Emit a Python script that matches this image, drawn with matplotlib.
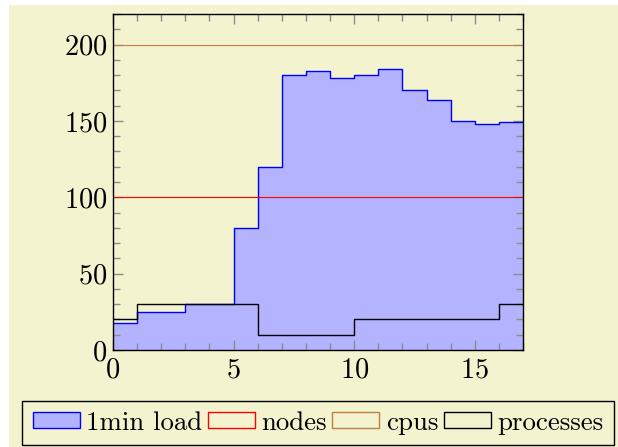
import matplotlib
matplotlib.use("Agg")
import matplotlib.pyplot as plt
from matplotlib.patches import Rectangle
from matplotlib.ticker import MultipleLocator

# ---- data ----
x_edges = list(range(0, 18))
load_1min = [18, 25, 25, 30, 30, 80, 120, 180, 183, 178, 180, 184, 170, 164, 150, 148, 149]
processes = [20, 30, 30, 30, 30, 30, 10, 10, 10, 10, 20, 20, 20, 20, 20, 20, 30]
nodes = [100] * 17
cpus = [200] * 17
legend_labels = ["1min load", "nodes", "cpus", "processes"]

BG = "#F3F3CF"
C_LOAD_FILL = "#B3B3FF"
C_LOAD_EDGE = "#0000FF"
C_NODES = "#FF0000"
C_CPUS = "#BF8040"
C_PROC = "#000000"

plt.rcParams["font.family"] = ["cmr10", "DejaVu Serif"]
plt.rcParams["axes.formatter.use_mathtext"] = True
plt.rcParams["mathtext.fontset"] = "cm"

fig = plt.figure(figsize=(6.18, 4.47), dpi=100)
fig.patch.set_facecolor("white")
fig.patches.append(Rectangle((9 / 618, 0), 1 - 9 / 618, 1 - 5 / 447,
                             transform=fig.transFigure, facecolor=BG,
                             edgecolor="none", zorder=-10))

ax = fig.add_axes([113 / 618, 1 - 350 / 447, 410 / 618, 336 / 447])
ax.set_facecolor(BG)

def ext(v):
    return v + [v[-1]]

ax.fill_between(x_edges, ext(load_1min), 0, step="post",
                facecolor=C_LOAD_FILL, edgecolor="none", zorder=1)
ax.step(x_edges, ext(load_1min), where="post", color=C_LOAD_EDGE, lw=1.0, zorder=2)
ax.step(x_edges, ext(nodes), where="post", color=C_NODES, lw=0.8, zorder=3)
ax.step(x_edges, ext(cpus), where="post", color=C_CPUS, lw=0.8, zorder=3)
ax.step(x_edges, ext(processes), where="post", color=C_PROC, lw=1.0, zorder=4)

ax.set_xlim(0, 17)
ax.set_ylim(0, 220)
ax.xaxis.set_major_locator(MultipleLocator(5))
ax.xaxis.set_minor_locator(MultipleLocator(1))
ax.yaxis.set_major_locator(MultipleLocator(50))
ax.yaxis.set_minor_locator(MultipleLocator(10))
ax.tick_params(which="both", direction="in", top=True, right=True,
               color="#8C8C8C", labelsize=20.5, width=1.0)
ax.tick_params(which="major", length=7)
ax.tick_params(which="minor", length=5)
ax.tick_params(axis="x", which="major", pad=5)
ax.tick_params(axis="y", which="major", pad=4)
for s in ax.spines.values():
    s.set_linewidth(1.0)
    s.set_color("black")
    s.set_zorder(5)

handles = [
    Rectangle((0, 0), 1, 1, facecolor=C_LOAD_FILL, edgecolor=C_LOAD_EDGE, lw=1),
    Rectangle((0, 0), 1, 1, facecolor="none", edgecolor=C_NODES, lw=1),
    Rectangle((0, 0), 1, 1, facecolor="none", edgecolor=C_CPUS, lw=1),
    Rectangle((0, 0), 1, 1, facecolor="none", edgecolor=C_PROC, lw=1),
]
leg = fig.legend(handles, legend_labels, loc="center",
                 bbox_to_anchor=(318 / 618, 1 - 423 / 447), ncol=4,
                 fontsize=19.3, frameon=True, fancybox=False,
                 facecolor=BG, edgecolor="black", framealpha=1,
                 handlelength=1.75, handleheight=0.55, handletextpad=0.25,
                 columnspacing=0.2, borderpad=0.38, borderaxespad=0)
leg.get_frame().set_linewidth(1.0)

fig.savefig("out.png", dpi=100, facecolor=fig.get_facecolor())
